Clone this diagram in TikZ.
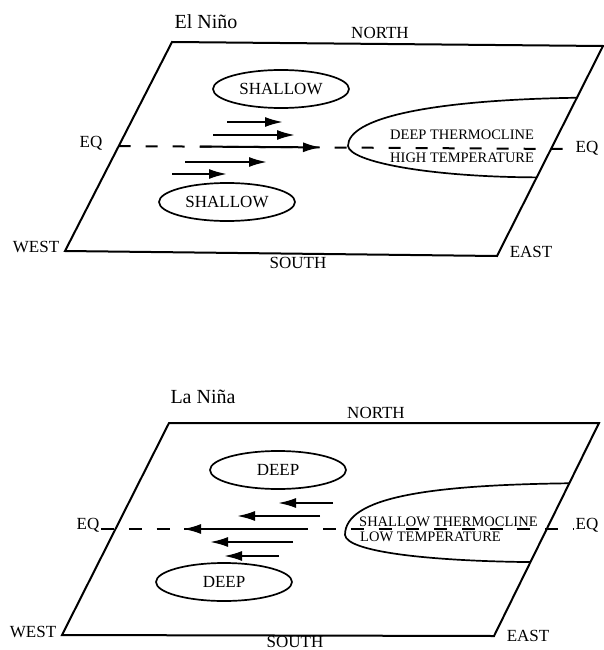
\documentclass[tikz,border=0pt]{standalone}
\usepackage{fontspec}
\setmainfont{Liberation Serif}
\usetikzlibrary{shapes.geometric,arrows.meta,calc}
\begin{document}
\begin{tikzpicture}[x=1pt,y=-1pt,
  lbl/.style={font=\fontsize{17}{20}\selectfont, inner sep=0pt},
  ttl/.style={font=\fontsize{20}{24}\selectfont, inner sep=0pt},
  small/.style={font=\fontsize{14.5}{15}\selectfont, inner sep=0pt, anchor=west},
  plane/.style={line width=2pt, line join=miter},
  blob/.style={draw, ellipse, line width=1.7pt, minimum width=136pt, minimum height=38pt, inner sep=0pt, font=\fontsize{17}{20}\selectfont},
  wind/.style={line width=2pt, -{Latex[length=18pt,width=10pt]}},
  eqline/.style={line width=2pt, dash pattern=on 12pt off 15pt},
  eqlineb/.style={line width=2pt, dash pattern=on 13pt off 14.75pt},
  thermo/.style={line width=1.7pt}
]
\useasboundingbox (0,0) rectangle (604,650);

% ---------------- El Nino ----------------
\coordinate (a-tl) at (172,42);
\coordinate (a-tr) at (603,46);
\coordinate (a-br) at (497,256);
\coordinate (a-bl) at (65,251);
\draw[plane] (a-tl) -- (a-tr) -- (a-br) -- (a-bl) -- cycle;

\coordinate (a-eqw) at ($(a-tl)!0.498!(a-bl)$);
\coordinate (a-eqe) at (563,149);
\draw[eqline] (a-eqw) -- (a-eqe);

\coordinate (a-tt) at ($(a-tr)!0.2464!(a-br)$);
\coordinate (a-tb) at ($(a-tr)!0.6256!(a-br)$);
\coordinate (a-tip) at (348,146);
\draw[thermo] (a-tt) .. controls (430,100) and (348,118) .. (a-tip)
  .. controls (350,162) and (430,177) .. (a-tb);

\coordinate (a-w1s) at (227,122); \coordinate (a-w1e) at (283,122);
\coordinate (a-w2s) at (213,135); \coordinate (a-w2e) at (295,135);
\coordinate (a-w3s) at (200,146.6); \coordinate (a-w3e) at (321,147.4);
\coordinate (a-w4s) at (185,162); \coordinate (a-w4e) at (267,162);
\coordinate (a-w5s) at (172,174); \coordinate (a-w5e) at (227,174);
\draw[wind] (a-w1s) -- (a-w1e);
\draw[wind] (a-w2s) -- (a-w2e);
\draw[wind] (a-w3s) -- (a-w3e);
\draw[wind] (a-w4s) -- (a-w4e);
\draw[wind] (a-w5s) -- (a-w5e);

\node[ttl] (a-title) at (206,22) {El Niño};
\node[lbl] (a-north) at (380,33) {NORTH};
\node[lbl] (a-south) at (298,263) {SOUTH};
\node[lbl] (a-west) at (36,247) {WEST};
\node[lbl] (a-east) at (531,252) {EAST};
\node[lbl] (a-eql) at (91,143) {EQ};
\node[lbl] (a-eqr) at (587,148) {EQ};
\node[blob] (a-sh1) at (281,89) {SHALLOW};
\node[blob] (a-sh2) at (227,202) {SHALLOW};
\node[small] (a-t1) at (390,135) {DEEP THERMOCLINE};
\node[small] (a-t2) at (390,158) {HIGH TEMPERATURE};

% ---------------- La Nina ----------------
\coordinate (b-tl) at (169,423);
\coordinate (b-tr) at (599,423);
\coordinate (b-br) at (494,636);
\coordinate (b-bl) at (62,635);
\draw[plane] (b-tl) -- (b-tr) -- (b-br) -- (b-bl) -- cycle;

\coordinate (b-eqw) at (101,529);
\coordinate (b-eqe) at (573,529);
\draw[eqlineb] (b-eqw) -- (b-eqe);

\coordinate (b-tt) at ($(b-tr)!0.283!(b-br)$);
\coordinate (b-tb) at ($(b-tr)!0.653!(b-br)$);
\coordinate (b-tip) at (345,535);
\draw[thermo] (b-tt) .. controls (430,485) and (345,497) .. (b-tip)
  .. controls (347,552) and (430,561) .. (b-tb);

\coordinate (b-w1s) at (333,503); \coordinate (b-w1e) at (278,503);
\coordinate (b-w2s) at (320,516); \coordinate (b-w2e) at (237,516);
\coordinate (b-w3s) at (305,529); \coordinate (b-w3e) at (183,529);
\coordinate (b-w4s) at (293,542); \coordinate (b-w4e) at (210,542);
\coordinate (b-w5s) at (279,556); \coordinate (b-w5e) at (224,556);
\draw[wind] (b-w1s) -- (b-w1e);
\draw[wind] (b-w2s) -- (b-w2e);
\draw[wind] (b-w3s) -- (b-w3e);
\draw[wind] (b-w4s) -- (b-w4e);
\draw[wind] (b-w5s) -- (b-w5e);

\node[ttl] (b-title) at (203,397) {La Niña};
\node[lbl] (b-north) at (376,413) {NORTH};
\node[lbl] (b-south) at (295,642) {SOUTH};
\node[lbl] (b-west) at (33,632) {WEST};
\node[lbl] (b-east) at (528,636) {EAST};
\node[lbl] (b-eql) at (88,525) {EQ};
\node[lbl] (b-eqr) at (587,525) {EQ};
\node[blob] (b-dp1) at (278,470) {DEEP};
\node[blob] (b-dp2) at (224,582) {DEEP};
\node[small] (b-t1) at (359,522) {SHALLOW THERMOCLINE};
\node[small] (b-t2) at (360,537) {LOW TEMPERATURE};
\end{tikzpicture}
\end{document}
